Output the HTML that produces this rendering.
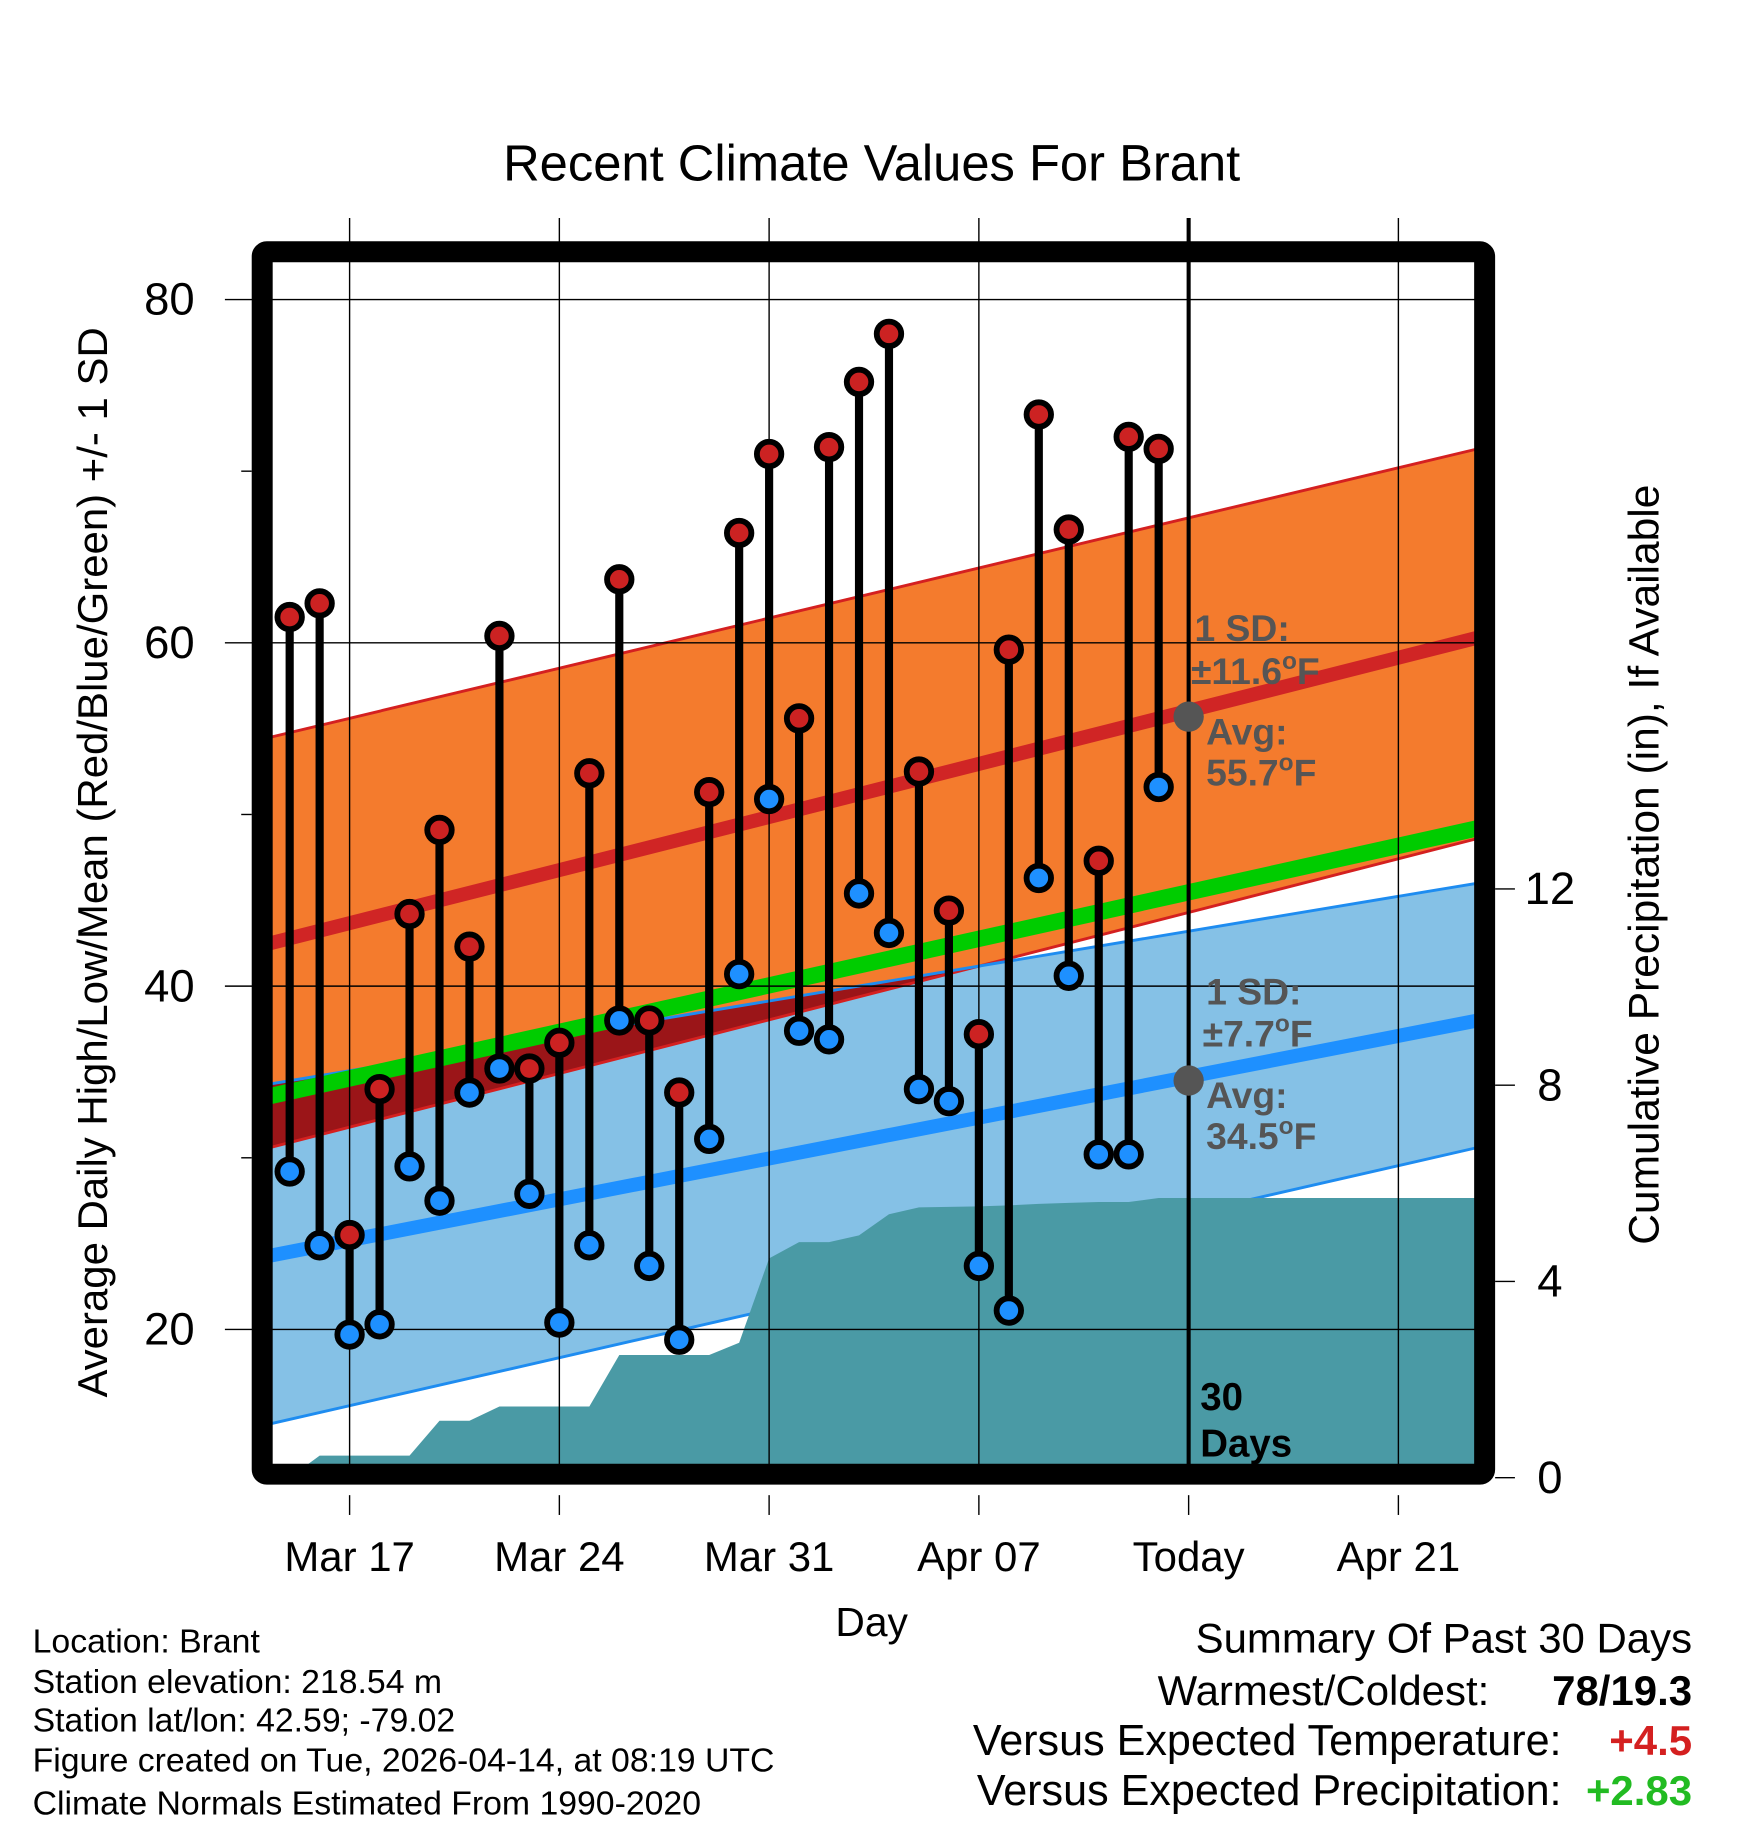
<!DOCTYPE html>
<html><head><meta charset="utf-8"><style>
html,body{margin:0;padding:0;background:#fff}
svg{display:block;font-family:"Liberation Sans",sans-serif}
</style></head><body>
<svg id="chart" width="1748" height="1828" viewBox="0 0 1500 1568.6" xmlns="http://www.w3.org/2000/svg"></svg>
<script>
const days = ["Mar 15","Mar 16","Mar 17","Mar 18","Mar 19","Mar 20","Mar 21","Mar 22","Mar 23","Mar 24","Mar 25","Mar 26","Mar 27","Mar 28","Mar 29","Mar 30","Mar 31","Apr 01","Apr 02","Apr 03","Apr 04","Apr 05","Apr 06","Apr 07","Apr 08","Apr 09","Apr 10","Apr 11","Apr 12","Apr 13"];
const highs = [61.5,62.3,25.5,34.0,44.2,49.1,42.3,60.4,35.2,36.7,52.4,63.7,38.0,33.8,51.3,66.4,71.0,55.6,71.4,75.2,78.0,52.5,44.4,37.2,59.6,73.3,66.6,47.3,72.0,71.3];
const lows = [29.2,24.9,19.7,20.3,29.5,27.5,33.8,35.2,27.9,20.4,24.9,38.0,23.7,19.4,31.1,40.7,50.9,37.4,36.9,45.4,43.1,34.0,33.3,23.7,21.1,46.3,40.6,30.2,30.2,51.6];
const precip = [0,0.45,0.45,0.45,0.45,1.16,1.16,1.45,1.45,1.45,1.45,2.5,2.5,2.5,2.5,2.75,4.47,4.8,4.8,4.94,5.37,5.51,5.52,5.53,5.55,5.58,5.6,5.62,5.62,5.7];
// normals at left edge / right edge of plot
const hiUpper = [54.5,71.3];
const hiMean = [42.5,60.3];
const hiLower = [30.6,48.6];
const loUpper = [34.3,46.0];
const loMean = [24.3,38.0];
const loLower = [14.5,30.6];
const avgMean = [33.6,49.2];
const xTickLabels = ["Mar 17","Mar 24","Mar 31","Apr 07","Today","Apr 21"];
const yTicks = [20,40,60,80];
const yMinor = [30,50,70];
const pTicks = [0,4,8,12];

const NS="http://www.w3.org/2000/svg";
const svg=document.getElementById('chart');
const L=232,R=1268,T=225,B=1260;
const x=d=>300+(d-2)*25.714; // d = day index from Mar 15
const y=v=>257+(80-v)*14.73;
const yp=p=>1268-p*42.1;
function el(tag,attrs,parent){const e=document.createElementNS(NS,tag);for(const k in attrs)e.setAttribute(k,attrs[k]);(parent||svg).appendChild(e);return e;}
function txt(s,attrs){const e=el('text',attrs);e.textContent=s;return e;}
function lineAt(arr,xx){return arr[0]+(arr[1]-arr[0])*(xx-L)/(R-L);}

const defs=el('defs',{});
const cp=el('clipPath',{id:'pc'},defs);el('rect',{x:L,y:T,width:R-L,height:B-T},cp);
const g=el('g',{'clip-path':'url(#pc)'});

function band(up,lo,fill,name){const p=el('polygon',{points:`${L},${y(up[0])} ${R},${y(up[1])} ${R},${y(lo[1])} ${L},${y(lo[0])}`,fill:fill},g);

}
band(hiUpper,hiLower,'#f47b2d','high-sd-band');
band(loUpper,loLower,'#85c1e6','low-sd-band');
{const d0=loUpper[0]-hiLower[0],d1=loUpper[1]-hiLower[1];
 if(d0>0){const xc=d1<0?L+(R-L)*d0/(d0-d1):R;
  const p=el('polygon',{points:`${L},${y(loUpper[0])} ${xc},${y(lineAt(loUpper,xc))} ${L},${y(hiLower[0])}`,fill:'#9b1518'},g);
  
  }}
function ln(arr,col,w,name){const l=el('line',{x1:L,y1:y(arr[0]),x2:R,y2:y(arr[1]),stroke:col,'stroke-width':w},g);

}
ln(hiUpper,'#d42020',2.5,'high-upper-sd-line');ln(hiLower,'#d42020',2.5,'high-lower-sd-line');
ln(loUpper,'#1e8cf0',2.5,'low-upper-sd-line');ln(loLower,'#1e8cf0',2.5,'low-lower-sd-line');
ln(avgMean,'#00cc00',14,'mean-normal-line');
ln(hiMean,'#d02525',12,'high-normal-line');
ln(loMean,'#1e90ff',12,'low-normal-line');

{let pts=`${L},${B+5} ${x(0)},${B+5} `;
 precip.forEach((p,i)=>{pts+=`${x(i)},${yp(p)} `;});
 pts+=`${R},${yp(precip[precip.length-1])} ${R},${B+5}`;
 const p=el('polygon',{points:pts,fill:'#4a9aa5'},g);
 
 }

xTickLabels.forEach((s,i)=>{const xx=x(2+7*i);
 el('line',{x1:xx,y1:187,x2:xx,y2:B,stroke:'#000','stroke-width':1.2});
 el('line',{x1:xx,y1:1283,x2:xx,y2:1300,stroke:'#000','stroke-width':1.2});
 const t=txt(s,{x:xx,y:1348,'font-size':36,'text-anchor':'middle'});
 
 });
yTicks.forEach(v=>{el('line',{x1:193,y1:y(v),x2:R,y2:y(v),stroke:'#000','stroke-width':1.2});
 const t=txt(String(v),{x:167,y:y(v)+13,'font-size':39,'text-anchor':'end'});
 
 });
yMinor.forEach(v=>el('line',{x1:207,y1:y(v),x2:216,y2:y(v),stroke:'#000','stroke-width':1.2}));
pTicks.forEach(p=>{el('line',{x1:1283,y1:yp(p),x2:1300,y2:yp(p),stroke:'#000','stroke-width':1.2});
 const t=txt(String(p),{x:1330,y:yp(p)+13,'font-size':39,'text-anchor':'middle'});
 
 });

el('line',{x1:1020,y1:187,x2:1020,y2:B,stroke:'#000','stroke-width':3.5});

highs.forEach((h,i)=>{const xx=x(i);
 const s=el('line',{x1:xx,y1:y(h),x2:xx,y2:y(lows[i]),stroke:'#000','stroke-width':7});
 
 
 const c1=el('circle',{cx:xx,cy:y(h),r:10.5,fill:'#cc2222',stroke:'#000','stroke-width':5});
 
 
 const c2=el('circle',{cx:xx,cy:y(lows[i]),r:10.5,fill:'#1e90ff',stroke:'#000','stroke-width':5});
 
 });

el('circle',{cx:1020,cy:y(55.7),r:13,fill:'#555'});
el('circle',{cx:1020,cy:y(34.5),r:13,fill:'#555'});

el('rect',{x:225,y:216,width:1049,height:1049,fill:'none',stroke:'#000','stroke-width':18,rx:4});
</script>
<script>
(function(){
const NS="http://www.w3.org/2000/svg",svg=document.getElementById('chart');
function t(s,a,name,html){const e=document.createElementNS(NS,'text');for(const k in a)e.setAttribute(k,a[k]);if(html)e.innerHTML=html;else e.textContent=s;svg.appendChild(e);

return e;}
const gs={fill:'#555','font-weight':'bold','font-size':32};
const deg='<tspan dy="-13" font-size="21">o</tspan><tspan dy="13">F</tspan>';
t('1 SD:',Object.assign({x:1025,y:550},gs),'high-sd-label');
t('',Object.assign({x:1022,y:587},gs),'high-sd-value','±11.6'+deg);
t('Avg:',Object.assign({x:1035,y:639},gs),'high-avg-label');
t('',Object.assign({x:1035,y:674},gs),'high-avg-value','55.7'+deg);
t('1 SD:',Object.assign({x:1035,y:862},gs),'low-sd-label');
t('',Object.assign({x:1032,y:898},gs),'low-sd-value','±7.7'+deg);
t('Avg:',Object.assign({x:1035,y:951},gs),'low-avg-label');
t('',Object.assign({x:1035,y:986},gs),'low-avg-value','34.5'+deg);
t('30',{x:1030,y:1210,'font-size':33,'font-weight':'bold'},'days-label');
t('Days',{x:1030,y:1250,'font-size':33,'font-weight':'bold'},'days-label-2');
t('Recent Climate Values For Brant',{x:748,y:155,'font-size':43.5,'text-anchor':'middle'},'chart-title');
t('Day',{x:748,y:1404,'font-size':35,'text-anchor':'middle'},'x-axis-title');
t('Average Daily High/Low/Mean (Red/Blue/Green) +/- 1 SD',{x:0,y:0,'font-size':36,'text-anchor':'middle',transform:'translate(92,740) rotate(-90)'},'y-axis-title');
t('Cumulative Precipitation (in), If Available',{x:0,y:0,'font-size':36.5,'text-anchor':'middle',transform:'translate(1423,742) rotate(-90)'},'y2-axis-title');
const info=['Location: Brant','Station elevation: 218.54 m','Station lat/lon: 42.59; -79.02','Figure created on Tue, 2026-04-14, at 08:19 UTC','Climate Normals Estimated From 1990-2020'];
const yy=[1418,1453,1486,1520,1557];
info.forEach((s,i)=>t(s,{x:28,y:yy[i],'font-size':29},'station-info'));
t('Summary Of Past 30 Days',{x:1452,y:1418,'font-size':36,'text-anchor':'end'},'summary-title');
t('Warmest/Coldest:',{x:1278,y:1463,'font-size':36,'text-anchor':'end'},'warmest-label');
t('78/19.3',{x:1452,y:1463,'font-size':36,'font-weight':'bold','text-anchor':'end'},'warmest-value');
t('Versus Expected Temperature:',{x:1340,y:1506,'font-size':37,'text-anchor':'end'},'temp-anomaly-label');
t('+4.5',{x:1452,y:1506,'font-size':36,'font-weight':'bold','text-anchor':'end',fill:'#d42020'},'temp-anomaly-value');
t('Versus Expected Precipitation:',{x:1340,y:1549,'font-size':37,'text-anchor':'end'},'precip-anomaly-label');
t('+2.83',{x:1452,y:1549,'font-size':36,'font-weight':'bold','text-anchor':'end',fill:'#22bb22'},'precip-anomaly-value');
})();
</script>
</body></html>
